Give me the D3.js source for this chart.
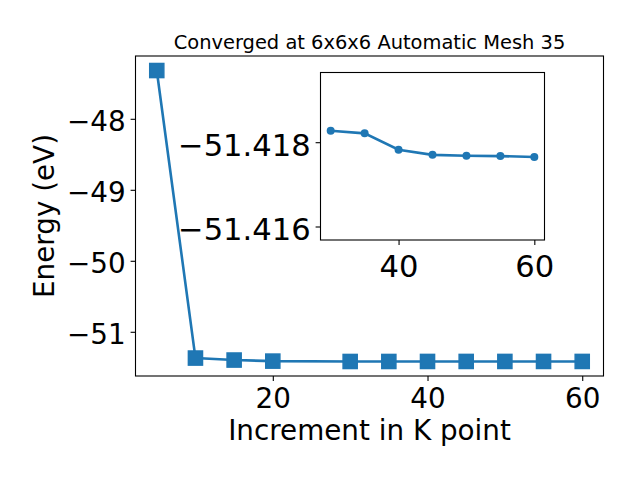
<!DOCTYPE html>
<html><head><meta charset="utf-8">
<script src="https://cdn.jsdelivr.net/npm/d3@7"></script>
<style>body{margin:0;background:#fff}svg{display:block}text{font-family:"DejaVu Sans",sans-serif;fill:#000}</style>
</head><body>
<svg id="c" width="640" height="480"></svg>
<script>
const kpoints = [5, 10, 15, 20, 30, 35, 40, 45, 50, 55, 60];
const energy = [-47.32, -51.370, -51.398, -51.413, -51.41827, -51.41821, -51.41782, -51.4177, -51.41768, -51.41767, -51.41765];
const insetK = [30, 35, 40, 45, 50, 55, 60];
const insetE = [-51.41827, -51.41821, -51.41782, -51.4177, -51.41768, -51.41767, -51.41765];
const mainXTicks = [20, 40, 60];
const mainYTicks = [-48, -49, -50, -51];
const insetXTicks = [40, 60];
const insetYTicks = [-51.418, -51.416];
const titleText = "Converged at 6x6x6 Automatic Mesh 35";
const xLabel = "Increment in K point";
const yLabel = "Energy (eV)";

const color = "#1f77b4";
const svg = d3.select("#c");
const fmtMinus = s => String(s).replace("-", "\u2212");
const tickFont = 27.8, insetTickFont = 30.6, labelFont = 27.8, titleFont = 19.44;

// main axes
const L = 135.5, R = 603.5, T = 56, B = 376;
const x = d3.scaleLinear().domain([2.25, 62.75]).range([L, R]);
const y = d3.scaleLinear().domain([-51.6227, -47.1153]).range([B, T]);

const gx = svg.append("g").attr("transform", `translate(0,${B})`)
  .call(d3.axisBottom(x).tickValues(mainXTicks).tickSize(4.9).tickPadding(4.9).tickFormat(d => fmtMinus(d)));
const gy = svg.append("g").attr("transform", `translate(${L},0)`)
  .call(d3.axisLeft(y).tickValues(mainYTicks).tickSize(4.9).tickPadding(4.9).tickFormat(d => fmtMinus(d)));
[gx, gy].forEach(g => {
  g.select(".domain").remove();
  g.selectAll(".tick line").attr("stroke", "#000").attr("stroke-width", 1.1);
  g.selectAll("text").attr("font-size", tickFont).attr("font-family", "DejaVu Sans");
});
gx.selectAll("text").attr("y", 32.3).attr("dy", null);
gy.selectAll("text").attr("dy", "0.43em");
svg.append("rect").attr("x", L).attr("y", T).attr("width", R - L).attr("height", B - T)
  .attr("fill", "none").attr("stroke", "#000").attr("stroke-width", 1.1);

const line = d3.line().x((d, i) => x(kpoints[i])).y(d => y(d));
svg.append("path").datum(energy).attr("d", line).attr("fill", "none")
  .attr("stroke", color).attr("stroke-width", 2.6);
const ms = 14.2;
svg.selectAll("rect.m").data(energy).enter().append("rect").attr("class", "m")
  .attr("x", (d, i) => x(kpoints[i]) - ms / 2).attr("y", d => y(d) - ms / 2)
  .attr("width", ms).attr("height", ms).attr("fill", color)
  .attr("stroke", color).attr("stroke-width", 1.4);

svg.append("text").attr("x", (L + R) / 2).attr("y", 49).attr("text-anchor", "middle")
  .attr("font-size", titleFont).text(titleText);
svg.append("text").attr("x", (L + R) / 2).attr("y", 440).attr("text-anchor", "middle")
  .attr("font-size", labelFont).text(xLabel);
svg.append("text").attr("transform", `translate(53.5,${(T + B) / 2}) rotate(-90)`)
  .attr("text-anchor", "middle").attr("font-size", labelFont).text(yLabel);

// inset
const iL = 320.5, iR = 544.5, iT = 72.5, iB = 240;
const xi = d3.scaleLinear().domain([28.5, 61.5]).range([iL, iR]);
const yi = d3.scaleLinear().domain([-51.418, -51.416]).range([142.2, 226.5]);
svg.append("rect").attr("x", iL).attr("y", iT).attr("width", iR - iL).attr("height", iB - iT)
  .attr("fill", "#fff").attr("stroke", "#000").attr("stroke-width", 1.1);
const gxi = svg.append("g").attr("transform", `translate(0,${iB})`)
  .call(d3.axisBottom(xi).tickValues(insetXTicks).tickSize(4.9).tickPadding(4.9).tickFormat(d => fmtMinus(d)));
const gyi = svg.append("g").attr("transform", `translate(${iL},0)`)
  .call(d3.axisLeft(yi).tickValues(insetYTicks).tickSize(4.9).tickPadding(4.9).tickFormat(d => fmtMinus(d3.format(".3f")(d))));
[gxi, gyi].forEach(g => {
  g.select(".domain").remove();
  g.selectAll(".tick line").attr("stroke", "#000").attr("stroke-width", 1.1);
  g.selectAll("text").attr("font-size", insetTickFont).attr("font-family", "DejaVu Sans");
});
gxi.selectAll("text").attr("y", 36.5).attr("dy", null);
gyi.selectAll("text").attr("dy", "0.42em");
const li = d3.line().x((d, i) => xi(insetK[i])).y(d => yi(d));
svg.append("path").datum(insetE).attr("d", li).attr("fill", "none")
  .attr("stroke", color).attr("stroke-width", 2.6);
svg.selectAll("circle.p").data(insetE).enter().append("circle").attr("class", "p")
  .attr("cx", (d, i) => xi(insetK[i])).attr("cy", d => yi(d)).attr("r", 4).attr("fill", color);
</script>
</body></html>
